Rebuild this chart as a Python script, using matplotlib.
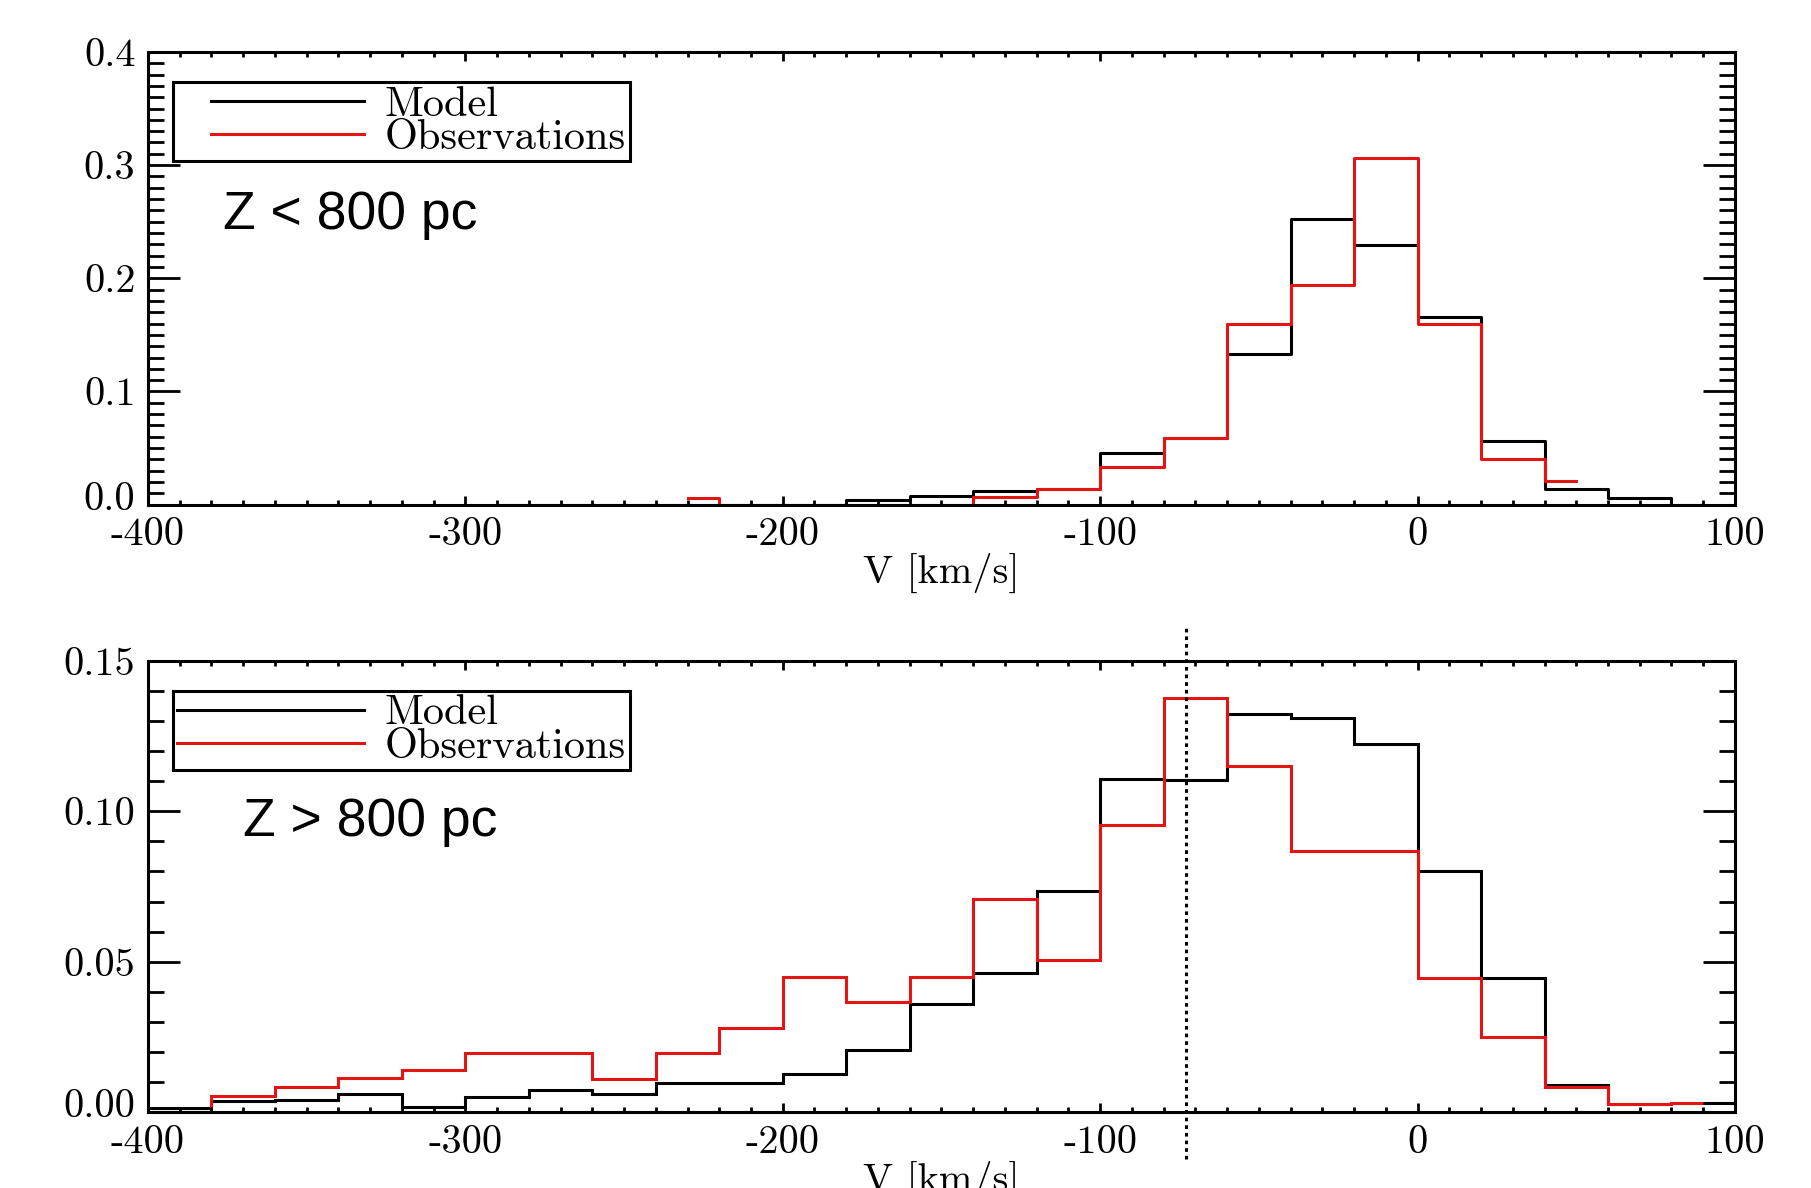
import numpy as np
import matplotlib.pyplot as plt
from matplotlib.lines import Line2D
from matplotlib.legend_handler import HandlerLine2D
from matplotlib.ticker import MultipleLocator, FormatStrFormatter
from matplotlib.transforms import ScaledTranslation

plt.rcParams['font.family'] = 'cmr10'
plt.rcParams['axes.unicode_minus'] = False

# --- Z < 800 pc: bin centres (20 km/s bins), drawn as IDL-style histograms
top_model_v = np.arange(-290, 91, 20)
top_model = [0, 0, 0, 0, 0, 0, 0.004, 0.008, 0.0125, 0.014, 0.0457, 0.059,
             0.133, 0.2525, 0.2296, 0.166, 0.056, 0.014, 0.006, 0]
top_obs_v = np.arange(-230, 51, 20)
top_obs = [0.006, 0, 0, 0, 0, 0.0065, 0.014, 0.033, 0.059, 0.160, 0.194,
           0.3065, 0.160, 0.040, 0.0205]

# --- Z > 800 pc: bin edges
bot_model_edges = np.arange(-400, 101, 20)
bot_model = [0.0013, 0.0037, 0.0042, 0.0061, 0.0019, 0.0051, 0.0073, 0.006,
             0.0096, 0.0096, 0.0127, 0.0206, 0.036, 0.0462, 0.0735, 0.1108,
             0.1103, 0.1323, 0.1309, 0.1225, 0.0802, 0.0446, 0.0091, 0.0027,
             0.003]
bot_obs_edges = np.append(np.arange(-400, 81, 20), 90)
bot_obs = [0, 0.0054, 0.0084, 0.0113, 0.014, 0.0197, 0.0197, 0.0112, 0.0197,
           0.0281, 0.0451, 0.0365, 0.0451, 0.0708, 0.0505, 0.0955, 0.1376,
           0.115, 0.0869, 0.0869, 0.0446, 0.025, 0.0084, 0.0027, 0.003]

v_cut = -73
red = '#e31414'
lw = 2.2
fs = 29

fig = plt.figure(figsize=(18.11, 11.88), dpi=100)
ax1 = fig.add_axes([0.0817, 0.5752, 0.8763, 0.3811])
ax2 = fig.add_axes([0.0817, 0.0637, 0.8763, 0.3801])

ax1.step(top_model_v, top_model, where='mid', color='k', lw=lw, label='Model')
ax1.step(top_obs_v, top_obs, where='mid', color=red, lw=lw, label='Observations')

ax2.stairs(bot_model, bot_model_edges, baseline=None, color='k', lw=lw, label='Model')
ax2.stairs(bot_obs, bot_obs_edges, baseline=None, color=red, lw=lw, label='Observations')
ax2.plot([v_cut, v_cut], [-0.0155, 0.161], color='k', lw=lw,
         dashes=(1.2, 1.3), clip_on=False)

ax1.set_ylim(0, 0.4)
ax2.set_ylim(0, 0.15)
ax1.yaxis.set_major_locator(MultipleLocator(0.1))
ax1.yaxis.set_minor_locator(MultipleLocator(0.01))
ax1.yaxis.set_major_formatter(FormatStrFormatter('%.1f'))
ax2.yaxis.set_major_locator(MultipleLocator(0.05))
ax2.yaxis.set_minor_locator(MultipleLocator(0.01))
ax2.yaxis.set_major_formatter(FormatStrFormatter('%.2f'))

ax1.text(0.047, 0.64, 'Z < 800 pc', transform=ax1.transAxes, fontsize=38.5,
         family='Liberation Sans', va='center', ha='left')
ax2.text(0.060, 0.643, 'Z > 800 pc', transform=ax2.transAxes, fontsize=38.5,
         family='Liberation Sans', va='center', ha='left')

for ax in (ax1, ax2):
    ax.set_xlim(-400, 100)
    ax.xaxis.set_major_locator(MultipleLocator(100))
    ax.xaxis.set_minor_locator(MultipleLocator(10))
    ax.xaxis.set_major_formatter(FormatStrFormatter('%d'))
    ax.tick_params(which='both', direction='in', top=True, right=True,
                   width=2.0, labelsize=fs, pad=9)
    ax.tick_params(axis='x', which='major', length=6.5)
    ax.tick_params(axis='x', which='minor', length=3.3)
    ax.tick_params(axis='y', which='major', length=23)
    ax.tick_params(axis='y', which='minor', length=11.5)
    for sp in ax.spines.values():
        sp.set_linewidth(lw)
    ax.set_xlabel('V [km/s]', fontsize=fs, labelpad=0)
    leg = ax.legend(loc='upper left', bbox_to_anchor=(0.0158, 0.934),
                    borderaxespad=0, fontsize=30.5, handlelength=4.4,
                    handletextpad=0.5, borderpad=0.1, labelspacing=-0.1,
                    fancybox=False, framealpha=1, edgecolor='k',
                    handler_map={Line2D: HandlerLine2D(xpad=0.8)})
    leg.get_frame().set_linewidth(lw)

# the zero label on each y axis sits a little above its tick, as in the original
fig.canvas.draw()
for ax in (ax1, ax2):
    lo, hi = ax.get_ylim()
    ticks = [t for t in ax.yaxis.get_major_ticks()
             if lo - 1e-9 <= t.get_loc() <= hi + 1e-9]
    lab = ticks[0].label1
    lab.set_transform(lab.get_transform()
                      + ScaledTranslation(0, 0.09, fig.dpi_scale_trans))

fig.savefig('out.png', dpi=100)
